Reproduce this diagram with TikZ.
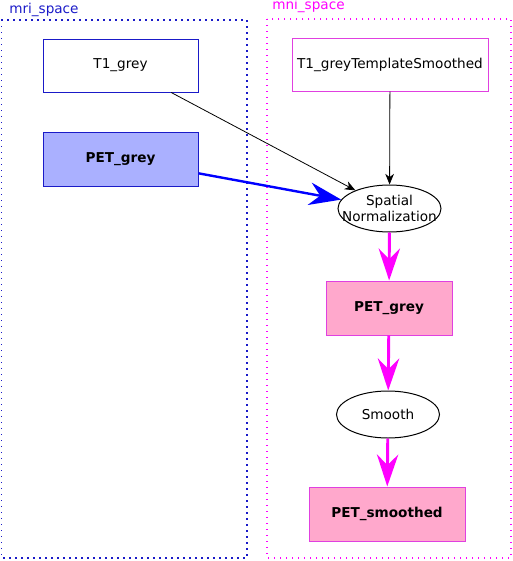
\documentclass[tikz,border=0pt]{standalone}
\usepackage{fontspec}
\setmainfont{DejaVu Sans}
\usetikzlibrary{arrows.meta,shapes.geometric}
\definecolor{cblue}{HTML}{1A1AC8}
\definecolor{cmag}{HTML}{FF00FF}
\definecolor{fblue}{HTML}{AAB0FF}
\definecolor{fpink}{HTML}{FFA8CC}
\definecolor{pmag}{HTML}{E040E0}
\begin{document}
\begin{tikzpicture}[x=0.75pt,y=-0.75pt,
  every node/.style={font=\fontsize{10.2pt}{12pt}\selectfont, inner sep=0pt, align=center},
  bluebox/.style={draw=cblue, rectangle, line width=0.75pt},
  magbox/.style={draw=pmag, rectangle, line width=0.75pt},
  oval/.style={draw=black, ellipse, line width=0.75pt},
  thinarrow/.style={draw=black, line width=0.6pt, -{Stealth[length=8pt,width=6.5pt,inset=2.5pt]}},
  bluearrow/.style={draw=blue, line width=1.8pt, -{Stealth[length=24pt,width=17pt,inset=8pt]}},
  magarrow/.style={draw=cmag, line width=2.2pt, -{Stealth[length=24pt,width=16pt,inset=8pt]}},
  cluster/.style={line width=1.1pt, dash pattern=on 0.8pt off 3.7pt}
]
\useasboundingbox (0,0) rectangle (513,561);
% clusters
\draw[cluster, draw=cblue] (1.5,20) rectangle (247,558);
\draw[cluster, draw=cmag] (267,19) rectangle (511,558);
\node[text=cblue, anchor=west] (mrilabel) at (9,10) {mri\_space};
\node[text=cmag, anchor=west] (mnilabel) at (272,6) {mni\_space};
% nodes
\node[bluebox, minimum width=155*0.75pt, minimum height=53*0.75pt] (t1grey) at (120.5,65.5) {T1\_grey};
\node[bluebox, fill=fblue, minimum width=155*0.75pt, minimum height=54*0.75pt, font=\fontsize{10.2pt}{12pt}\selectfont\bfseries] (petL) at (120.5,159) {PET\_grey};
\node[magbox, minimum width=196*0.75pt, minimum height=53*0.75pt] (tmpl) at (390,64.5) {T1\_greyTemplateSmoothed};
\node[oval, minimum width=103*0.75pt, minimum height=47*0.75pt,
  label={[font=\fontsize{10.2pt}{12.5pt}\selectfont, align=center]center:Spatial\\Normalization}] (spatial) at (389.5,208.5) {};
\node[magbox, fill=fpink, minimum width=126*0.75pt, minimum height=54*0.75pt, font=\fontsize{10.2pt}{12pt}\selectfont\bfseries] (petR) at (389,308) {PET\_grey};
\node[oval, minimum width=103*0.75pt, minimum height=47*0.75pt] (smooth) at (388,414.5) {Smooth};
\node[magbox, fill=fpink, minimum width=156*0.75pt, minimum height=54*0.75pt, font=\fontsize{10.2pt}{12pt}\selectfont\bfseries] (petS) at (387,514) {PET\_smoothed};
% edges
\draw[thinarrow] (t1grey) -- (spatial);
\draw[bluearrow] (petL) -- (spatial);
\draw[thinarrow] (tmpl) -- (spatial);
\draw[magarrow] (spatial) -- (petR);
\draw[magarrow] (petR) -- (smooth);
\draw[magarrow] (smooth) -- (petS);
\end{tikzpicture}
\end{document}
